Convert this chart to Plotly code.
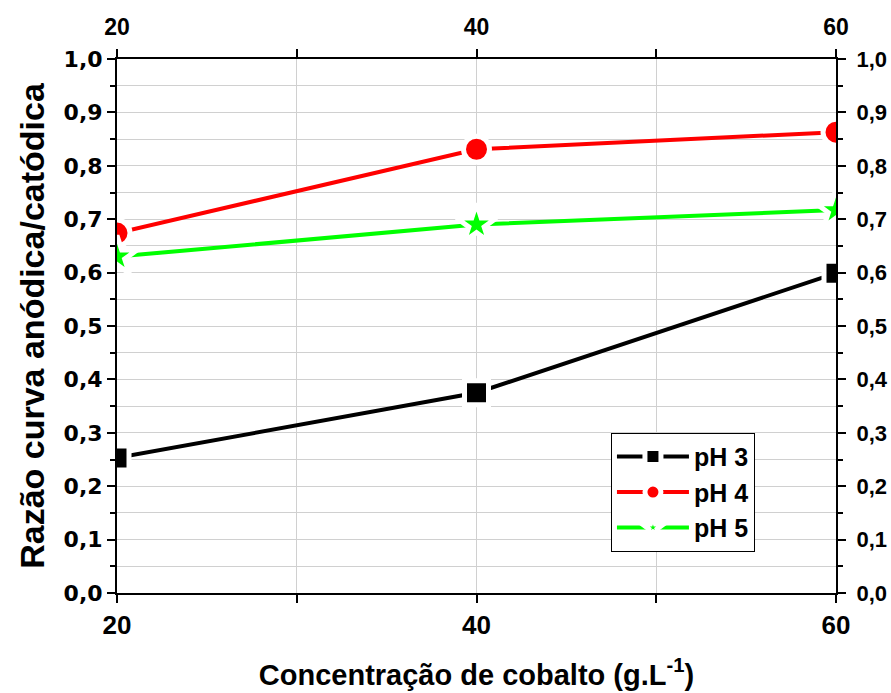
import plotly.graph_objects as go

conc = [20, 40, 60]
ph3 = [0.253, 0.375, 0.599]
ph4 = [0.674, 0.831, 0.863]
ph5 = [0.630, 0.690, 0.717]
series_names = ["pH 3", "pH 4", "pH 5"]
x_tickvals = [20, 30, 40, 50, 60]
x_ticktext = ["20", "", "40", "", "60"]
y_tickvals = [0.0, 0.1, 0.2, 0.3, 0.4, 0.5, 0.6, 0.7, 0.8, 0.9, 1.0]

FONT = "Arial, Liberation Sans, sans-serif"
WIDE = "DejaVu Sans, Arial, sans-serif"

fig = go.Figure()
styles = [
    (ph3, "black", "square", 24),
    (ph4, "#ff0000", "circle", 26),
    (ph5, "#00ff00", "star", 30),
]
for (vals, col, sym, sz), name in zip(styles, series_names):
    fig.add_trace(go.Scatter(
        x=conc, y=vals, name=name, mode="lines+markers",
        line=dict(color=col, width=4),
        marker=dict(symbol=sym, size=sz, color=col, line=dict(color="white", width=5)),
        cliponaxis=True,
    ))

# invisible trace for secondary axes
fig.add_trace(go.Scatter(x=conc, y=ph3, xaxis="x2", yaxis="y2", mode="markers",
                         marker=dict(opacity=0), showlegend=False, hoverinfo="skip"))

axis_common = dict(showline=True, linecolor="black", linewidth=2, ticks="outside",
                   tickcolor="black", tickwidth=2, zeroline=False, automargin=False)

fig.update_layout(
    width=891, height=693,
    margin=dict(l=117, r=55, t=59, b=100),
    paper_bgcolor="white", plot_bgcolor="white",
    separators=",.",
    showlegend=True,
    legend=dict(x=0.687, y=0.30, xanchor="left", yanchor="top",
                bordercolor="black", borderwidth=1, bgcolor="white",
                font=dict(family=FONT, size=25, color="black", weight="bold"),
                itemwidth=72, tracegroupgap=0),
    xaxis=dict(range=[20, 60], tickvals=x_tickvals, ticktext=x_ticktext, ticklen=8,
               showgrid=True, gridcolor="#d0d0d0", gridwidth=1,
               tickfont=dict(family=FONT, size=26, color="black", weight="bold"),
               ticklabelstandoff=0,
               title=dict(text="Concentração de cobalto (g.L<sup>-1</sup>)",
                          font=dict(family=FONT, size=29, color="black", weight="bold"),
                          standoff=25),
               **axis_common),
    yaxis=dict(range=[0, 1.0], tickvals=y_tickvals, tickformat=".1f", ticklen=8,
               showgrid=True, gridcolor="#d0d0d0", gridwidth=1,
               minor=dict(dtick=0.05, ticklen=5, tickwidth=2, tickcolor="black",
                          ticks="outside", showgrid=True, gridcolor="#d0d0d0", gridwidth=1),
               tickfont=dict(family=WIDE, size=22, color="black", weight="bold"),
               title=dict(text="Razão curva anódica/catódica",
                          font=dict(family=FONT, size=34, color="black", weight="bold"),
                          standoff=9),
               **axis_common),
    xaxis2=dict(overlaying="x", side="top", range=[20, 60], tickvals=x_tickvals,
                ticktext=x_ticktext, ticklen=8, showgrid=False, ticklabelstandoff=5,
                tickfont=dict(family=FONT, size=23, color="black", weight="bold"),
                **axis_common),
    yaxis2=dict(overlaying="y", side="right", range=[0, 1.0], tickvals=y_tickvals,
                tickformat=".1f", ticklen=8, showgrid=False, ticklabelstandoff=6,
                minor=dict(dtick=0.05, ticklen=5, tickwidth=2, tickcolor="black", ticks="outside"),
                tickfont=dict(family=FONT, size=22, color="black", weight="bold"),
                **axis_common),
)

fig.write_html("out.html")
